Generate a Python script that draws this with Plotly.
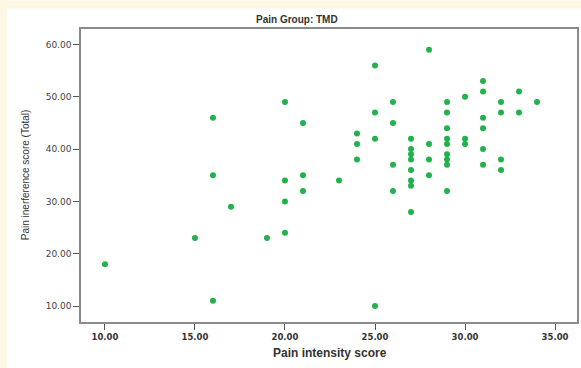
import plotly.graph_objects as go

# Pain intensity score (x) and pain interference score (y)
pain_intensity = (
    [10] + [15] + [16] * 3 + [17] + [19] + [20] * 4 + [21] * 3 + [23]
    + [24] * 3 + [25] * 4 + [26] * 4 + [27] * 8 + [28] * 4 + [29] * 9
    + [30] * 3 + [31] * 6 + [32] * 4 + [33] * 2 + [34]
)
pain_interference = [
    18,
    23,
    46, 35, 11,
    29,
    23,
    49, 34, 30, 24,
    45, 35, 32,
    34,
    43, 41, 38,
    56, 47, 42, 10,
    49, 45, 37, 32,
    42, 40, 39, 38, 36, 34, 33, 28,
    59, 41, 38, 35,
    49, 47, 44, 42, 41, 39, 38, 37, 32,
    50, 42, 41,
    53, 51, 46, 44, 40, 37,
    49, 47, 38, 36,
    51, 47,
    49,
]
x_ticks = [10, 15, 20, 25, 30, 35]
y_ticks = [10, 20, 30, 40, 50, 60]

W, H = 581, 368
# plot area in page pixels
L, R, T, B = 81, 577, 28.5, 322
pw, ph = R - L, B - T

def px(xp):
    return (xp - L) / pw

def py(yp):
    return (B - yp) / ph

fig = go.Figure()
fig.add_trace(go.Scatter(
    x=pain_intensity, y=pain_interference, mode="markers",
    marker=dict(color="#22b24c", size=6, line=dict(width=0)),
    showlegend=False, hoverinfo="x+y",
))

axis_common = dict(
    showgrid=False, zeroline=False, showline=True, linecolor="#8a8a8a",
    linewidth=1.5, mirror=True, ticks="outside", ticklen=6, tickwidth=1,
    tickcolor="#555555", tickformat=".2f", automargin=False,
)
fig.update_xaxes(range=[8.67, 36.22], tickvals=x_ticks, **axis_common,
                 tickfont=dict(family="DejaVu Sans", size=8.5, color="#333333", weight="bold"))
fig.update_yaxes(range=[6.95, 62.96], tickvals=y_ticks, **axis_common,
                 tickfont=dict(family="DejaVu Sans", size=9, color="#444444"))

cream = "#fcf8e3"
fig.update_layout(
    width=W, height=H,
    margin=dict(l=L, r=W - R, t=T, b=H - B, pad=0),
    paper_bgcolor="white", plot_bgcolor="white",
    shapes=[
        dict(type="rect", xref="paper", yref="paper", x0=px(0), x1=px(W), y0=py(8), y1=py(0),
             fillcolor=cream, line=dict(width=0), layer="below"),
        dict(type="rect", xref="paper", yref="paper", x0=px(0), x1=px(7), y0=py(H), y1=py(0),
             fillcolor=cream, line=dict(width=0), layer="below"),
    ],
    annotations=[
        dict(text="Pain Group: TMD", x=px(297), y=py(19), xref="paper", yref="paper",
             showarrow=False, xanchor="center", yanchor="middle",
             font=dict(family="Liberation Sans", size=10, color="#333333", weight="bold")),
        dict(text="Pain intensity score", x=px(330), y=py(353), xref="paper", yref="paper",
             showarrow=False, xanchor="center", yanchor="middle",
             font=dict(family="Liberation Sans", size=12, color="#333333", weight="bold")),
        dict(text="Pain inerference score (Total)", x=px(25), y=py(175), xref="paper", yref="paper",
             showarrow=False, xanchor="center", yanchor="middle", textangle=-90,
             font=dict(family="Liberation Sans", size=10, color="#333333")),
    ],
)

fig.write_html(
    "out.html",
    config={"displayModeBar": False},
    post_script="document.body.style.margin='0';document.body.style.overflow='hidden';",
)
